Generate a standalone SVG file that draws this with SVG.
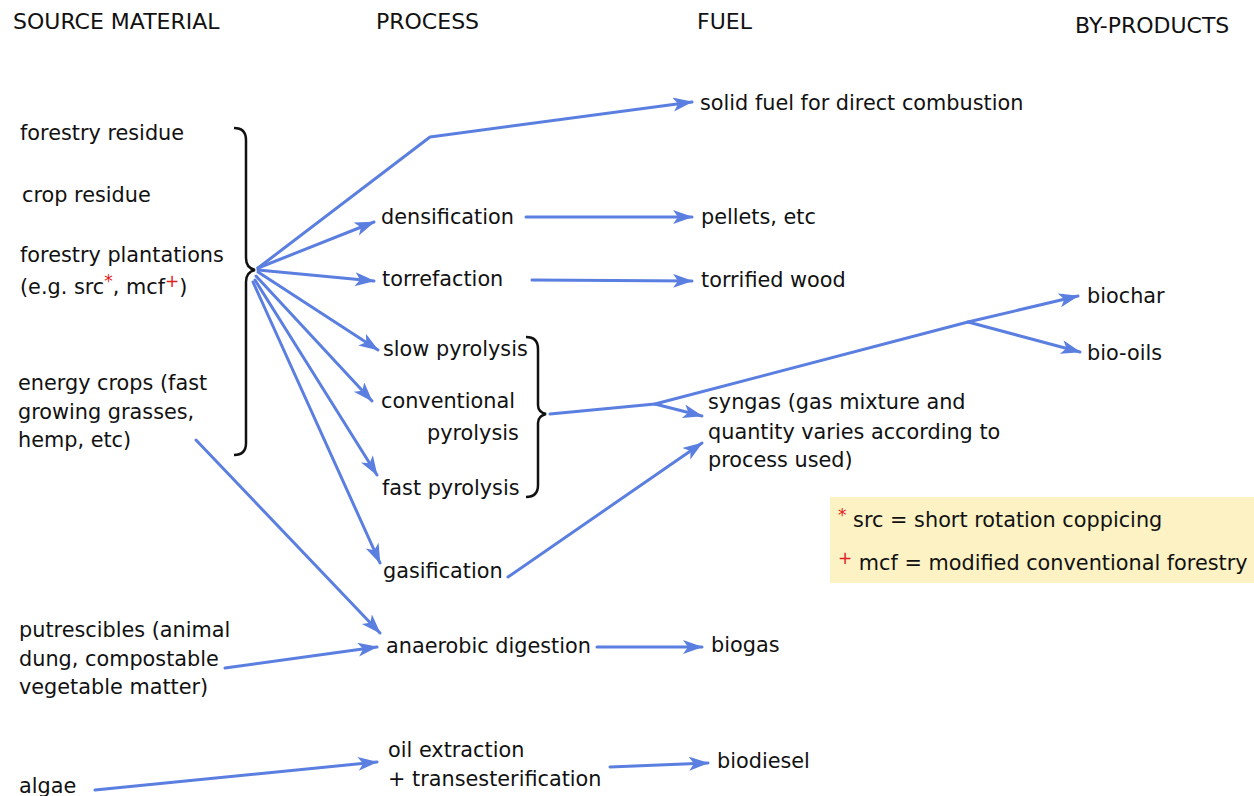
<svg xmlns="http://www.w3.org/2000/svg" width="1254" height="796" viewBox="0 0 1254 796">
<defs>
<style>
text{font-family:"DejaVu Sans","Liberation Sans",sans-serif;font-size:20.8px;fill:#111}
.h{font-size:22px}
.r{fill:#e02020;font-size:17px}
.c{fill:none;stroke:#5b7fe0;stroke-width:3;stroke-linecap:round;stroke-linejoin:round}
.b{fill:none;stroke:#111;stroke-width:2.5}
</style>
<marker id="a" markerUnits="userSpaceOnUse" markerWidth="22" markerHeight="16" refX="19" refY="7" orient="auto">
<path d="M0,0 L20,7 L0,14 L5,7 Z" fill="#5b7fe0"/>
</marker>
</defs>
<rect width="1254" height="796" fill="#fff"/>
<g id="headers">
<text class="h" x="13" y="29">SOURCE MATERIAL</text>
<text class="h" x="376" y="29">PROCESS</text>
<text class="h" x="697" y="29">FUEL</text>
<text class="h" x="1075" y="33">BY-PRODUCTS</text>
</g>
<g id="sources">
<text x="20" y="140">forestry residue</text>
<text x="22" y="202">crop residue</text>
<text x="20" y="262">forestry plantations</text>
<text x="20" y="294">(e.g. src<tspan class="r" dy="-7">*</tspan><tspan dy="7">, mcf</tspan><tspan class="r" dy="-7">+</tspan><tspan dy="7">)</tspan></text>
<text x="18" y="390">energy crops (fast</text>
<text x="18" y="419">growing grasses,</text>
<text x="18" y="447">hemp, etc)</text>
<path class="b" d="M234,128 Q246,128 246,140 L246,258 Q246,268 255,270 Q246,272 246,282 L246,443 Q246,455 234,455"/>
</g>
<g id="putrescibles">
<text x="19" y="637">putrescibles (animal</text>
<text x="19" y="666">dung, compostable</text>
<text x="19" y="694">vegetable matter)</text>
</g>
<g id="algae"><text x="19" y="793">algae</text></g>
<g id="processes">
<text x="381" y="224">densification</text>
<text x="382" y="286">torrefaction</text>
<text x="383" y="356">slow pyrolysis</text>
<text x="381" y="408">conventional</text>
<text x="427" y="440">pyrolysis</text>
<text x="382" y="495">fast pyrolysis</text>
<path class="b" d="M526,337 Q538,337 538,349 L538,405 Q538,412 546,414 Q538,416 538,423 L538,485 Q538,497 526,497"/>
<text x="383" y="578">gasification</text>
<text x="386" y="653">anaerobic digestion</text>
<text x="388" y="757">oil extraction</text>
<text x="388" y="786">+ transesterification</text>
</g>
<g id="fuels">
<text x="700" y="110">solid fuel for direct combustion</text>
<text x="701" y="224">pellets, etc</text>
<text x="701" y="287">torrified wood</text>
<text x="708" y="409">syngas (gas mixture and</text>
<text x="708" y="439">quantity varies according to</text>
<text x="708" y="467">process used)</text>
<text x="711" y="652">biogas</text>
<text x="717" y="768">biodiesel</text>
</g>
<g id="byproducts">
<text x="1087" y="303">biochar</text>
<text x="1087" y="360">bio-oils</text>
</g>
<g id="legend">
<rect x="830" y="497" width="424" height="86" fill="#fcf2c4"/>
<text x="838" y="527"><tspan class="r" dy="-6">*</tspan><tspan dy="6"> src = short rotation coppicing</tspan></text>
<text x="838" y="570"><tspan class="r" dy="-6">+</tspan><tspan dy="6"> mcf = modified conventional forestry</tspan></text>
</g>
<g id="connectors">
<path class="c" d="M258,268 L430,137 L692,102" marker-end="url(#a)"/>
<path class="c" d="M258,268 L374,222" marker-end="url(#a)"/>
<path class="c" d="M258,270 L374,281" marker-end="url(#a)"/>
<path class="c" d="M258,272 L378,350" marker-end="url(#a)"/>
<path class="c" d="M256,276 L372,401" marker-end="url(#a)"/>
<path class="c" d="M255,280 L377,475" marker-end="url(#a)"/>
<path class="c" d="M253,282 L380,563" marker-end="url(#a)"/>
<path class="c" d="M196,440 L380,633" marker-end="url(#a)"/>
<path class="c" d="M225,668 L377,647" marker-end="url(#a)"/>
<path class="c" d="M95,790 L377,762" marker-end="url(#a)"/>
<path class="c" d="M526,217 L692,217" marker-end="url(#a)"/>
<path class="c" d="M532,280 L692,281" marker-end="url(#a)"/>
<path class="c" d="M550,414 L655,404 L702,416" marker-end="url(#a)"/>
<path class="c" d="M655,404 L968,322 L1078,296" marker-end="url(#a)"/>
<path class="c" d="M968,322 L1080,352" marker-end="url(#a)"/>
<path class="c" d="M508,577 L702,443" marker-end="url(#a)"/>
<path class="c" d="M597,647 L702,647" marker-end="url(#a)"/>
<path class="c" d="M610,767 L708,763" marker-end="url(#a)"/>
</g>
</svg>
